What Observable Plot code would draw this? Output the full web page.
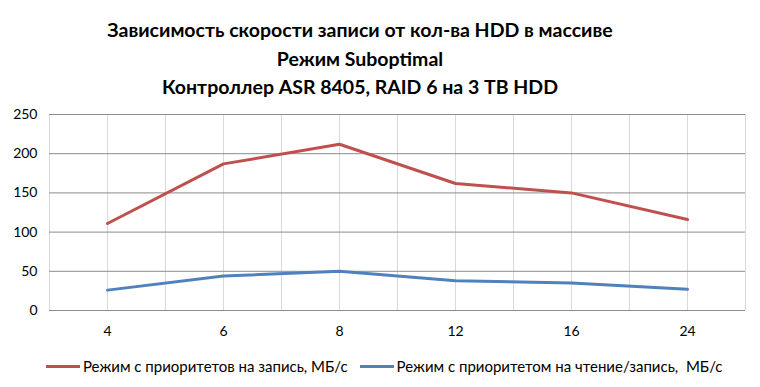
<!DOCTYPE html>
<html>
<head>
<meta charset="utf-8">
<script src="https://cdn.jsdelivr.net/npm/d3@7"></script>
<script src="https://cdn.jsdelivr.net/npm/@observablehq/plot@0.6"></script>
<style>
  html, body { margin: 0; padding: 0; background: #fff; }
  body { width: 760px; height: 387px; overflow: hidden; font-family: Lato, "Open Sans", sans-serif; }
  #title { width: 720px; text-align: center; font-weight: bold; font-size: 19.5px; line-height: 28.7px; color: #000; padding-top: 16px; height: 100px; box-sizing: border-box; }
  #legend { display: flex; align-items: center; font-size: 15px; color: #000; padding-left: 46px; height: 42px; }
  .sw { display: inline-block; width: 34px; height: 3px; margin-right: 3px; }
  .item { display: flex; align-items: center; margin-right: 12px; }
</style>
</head>
<body>
<div id="title">Зависимость скорости записи от кол-ва HDD в массиве<br>Режим Suboptimal<br>Контроллер ASR 8405, RAID 6 на 3 TB HDD</div>
<div id="chart"></div>
<div id="legend"></div>
<script>
const categories = ["4", "6", "8", "12", "16", "24"];
const writePriority = [111, 187, 212, 162, 150, 116];
const readWritePriority = [26, 44, 50, 38, 35, 27];
const seriesNames = ["Режим с приоритетов на запись, МБ/с", "Режим с приоритетом на чтение/запись,  МБ/с"];
const seriesColors = ["#C0504D", "#4F81BD"];
const yTicks = [0, 50, 100, 150, 200, 250];

const rows = [];
[writePriority, readWritePriority].forEach((vals, s) => {
  vals.forEach((v, i) => rows.push({series: seriesNames[s], idx: i, value: v}));
});
const idxs = categories.map((_, i) => i);
const vGrid = d3.range(-0.5, categories.length - 0.5 + 0.01, 0.5);

const chart = Plot.plot({
  width: 760,
  height: 245,
  marginLeft: 49,
  marginRight: 15,
  marginTop: 14,
  marginBottom: 35,
  style: {fontFamily: "Lato, 'Open Sans', sans-serif", fontSize: "14px", color: "#000", background: "#fff"},
  x: {domain: [-0.5, categories.length - 0.5], axis: null, label: null},
  y: {domain: [0, 250], axis: null, label: null},
  color: {domain: seriesNames, range: seriesColors},
  marks: [
    Plot.ruleX(vGrid, {stroke: "#d9d9d9", strokeWidth: 1}),
    Plot.ruleY(yTicks, {stroke: "#8c8c8c", strokeWidth: 1}),
    Plot.axisY(yTicks, {tickSize: 0, tickPadding: 12, fontSize: 14, label: null, tickFormat: d => String(d)}),
    Plot.axisX(idxs, {tickSize: 0, tickPadding: 16, fontSize: 14, label: null, tickFormat: i => categories[i]}),
    Plot.line(rows, {x: "idx", y: "value", z: "series", stroke: "series", strokeWidth: 3, strokeLinejoin: "round"})
  ]
});
document.getElementById("chart").appendChild(chart);

const legend = document.getElementById("legend");
seriesNames.forEach((name, i) => {
  const item = document.createElement("span");
  item.className = "item";
  const sw = document.createElement("span");
  sw.className = "sw";
  sw.style.background = seriesColors[i];
  item.appendChild(sw);
  const t = document.createElement("span");
  t.textContent = name;
  t.style.whiteSpace = "pre";
  item.appendChild(t);
  legend.appendChild(item);
});
</script>
</body>
</html>
